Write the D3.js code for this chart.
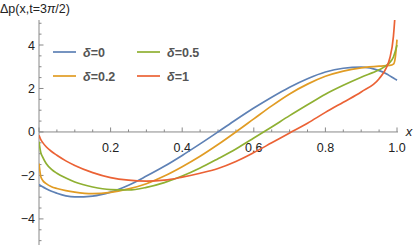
<!DOCTYPE html>
<html>
<head>
<meta charset="utf-8">
<script src="https://cdn.jsdelivr.net/npm/d3@7"></script>
<style>
  body { margin: 0; background: #fff; }
  svg { display: block; font-family: "Liberation Sans", Arial, sans-serif; }
</style>
</head>
<body>
<script>
// sample points along x, shared by every curve
const xs = [0, 0.005, 0.01, 0.02, 0.035, 0.05, 0.075, 0.1, 0.15, 0.2, 0.25, 0.3, 0.35, 0.4, 0.45,
    0.5, 0.55, 0.6, 0.65, 0.7, 0.75, 0.8, 0.85, 0.9, 0.95, 0.97, 0.98, 0.99, 0.995, 1];

const delta0 = [-2.42, -2.47, -2.52, -2.61, -2.73, -2.82, -2.94, -2.99, -2.95, -2.77, -2.45, -2.03, -1.58, -1.08, -0.55,
    0, 0.56, 1.1, 1.6, 2.06, 2.45, 2.76, 2.93, 2.98, 2.82, 2.68, 2.58, 2.48, 2.43, 2.38];
const delta02 = [-1.45, -2.05, -2.22, -2.38, -2.52, -2.6, -2.7, -2.77, -2.84, -2.78, -2.62, -2.38, -2.03, -1.6, -1.12,
    -0.58, 0, 0.6, 1.2, 1.75, 2.2, 2.56, 2.8, 2.95, 3.03, 3.05, 3.06, 3.12, 3.4, 4.25];
const delta05 = [-0.45, -0.95, -1.15, -1.45, -1.72, -1.9, -2.12, -2.3, -2.53, -2.65, -2.67, -2.55, -2.33, -2.03, -1.66,
    -1.23, -0.78, -0.28, 0.23, 0.75, 1.25, 1.74, 2.15, 2.52, 2.86, 3.05, 3.2, 3.45, 3.7, 4.0];
const delta1 = [-0.15, -0.35, -0.48, -0.68, -0.9, -1.07, -1.33, -1.54, -1.87, -2.1, -2.22, -2.26, -2.22, -2.08, -1.9,
    -1.68, -1.36, -0.95, -0.5, -0.05, 0.4, 0.9, 1.37, 1.84, 2.45, 2.95, 3.4, 4.4, 5.5, 7];

const seriesNames = ["δ=0", "δ=0.2", "δ=0.5", "δ=1"];
const seriesValues = [delta0, delta02, delta05, delta1];
const colors = ["#5E81B5", "#E19C24", "#8FB032", "#EB6235"];

const xTickLabels = [0.2, 0.4, 0.6, 0.8, 1.0];
const yTickLabels = [-4, -2, 0, 2, 4];

const W = 417, H = 245;
const svg = d3.select('body').append('svg')
    .attr('width', W)
    .attr('height', H);

const x = d3.scaleLinear().domain([0, 1]).range([39, 397]);
const y = d3.scaleLinear().domain([-5.2, 5.15]).range([245, 20]);

const axisColor = "#888";

// clip for curves
svg.append('clipPath').attr('id', 'clip')
    .append('rect')
    .attr('x', x(0)).attr('y', y(5.15))
    .attr('width', x(1) - x(0) + 2).attr('height', y(-5.2) - y(5.15));

// x axis with ticks pointing up
const xAxis = svg.append('g');
xAxis.append('line')
    .attr('x1', x(0)).attr('x2', x(1) + 1)
    .attr('y1', y(0)).attr('y2', y(0))
    .attr('stroke', axisColor);
const xMinor = d3.range(0, 1.0001, 0.05);
xAxis.selectAll('.xt').data(xMinor).enter().append('line')
    .attr('x1', d => x(d)).attr('x2', d => x(d))
    .attr('y1', y(0))
    .attr('y2', (d, i) => y(0) - (i % 4 === 0 ? 4.5 : 2.5))
    .attr('stroke', axisColor);
xAxis.selectAll('.xl').data(xTickLabels).enter().append('text')
    .attr('x', d => x(d)).attr('y', y(0) + 20)
    .attr('text-anchor', 'middle')
    .attr('font-size', 12.5)
    .attr('fill', '#222')
    .text(d => d3.format('.1f')(d));
xAxis.append('text')
    .attr('x', 409).attr('y', y(0) + 4)
    .attr('text-anchor', 'middle')
    .attr('font-size', 13)
    .attr('font-style', 'italic')
    .attr('fill', '#222')
    .text('x');

// y axis with ticks pointing right
const yAxis = svg.append('g');
yAxis.append('line')
    .attr('x1', x(0)).attr('x2', x(0))
    .attr('y1', y(5.15)).attr('y2', y(-5.2))
    .attr('stroke', axisColor);
const yMinor = d3.range(-5, 5.001, 0.5);
yAxis.selectAll('.yt').data(yMinor).enter().append('line')
    .attr('x1', x(0))
    .attr('x2', d => x(0) + (Math.abs(d % 2) < 1e-9 ? 4.5 : 2.5))
    .attr('y1', d => y(d)).attr('y2', d => y(d))
    .attr('stroke', axisColor);
yAxis.selectAll('.yl').data(yTickLabels).enter().append('text')
    .attr('x', x(0) - 4).attr('y', d => y(d) + 4.5)
    .attr('text-anchor', 'end')
    .attr('font-size', 12.5)
    .attr('fill', '#222')
    .text(d => d < 0 ? '\u2212' + Math.abs(d) : d);

// title
const title = svg.append('text')
    .attr('x', 0).attr('y', 13)
    .attr('font-size', 12.5)
    .attr('fill', '#222');
title.append('tspan').text('Δp(x,t=3');
title.append('tspan').attr('font-style', 'italic').text('π');
title.append('tspan').text('/2)');

// curves
const line = d3.line()
    .x(d => x(d[0]))
    .y(d => y(d[1]))
    .curve(d3.curveMonotoneX);

svg.append('g').attr('clip-path', 'url(#clip)')
    .selectAll('path').data(seriesValues).enter().append('path')
    .attr('d', vals => line(xs.map((v, i) => [v, vals[i]])))
    .attr('fill', 'none')
    .attr('stroke', (d, i) => colors[i])
    .attr('stroke-width', 1.7);

// legend
const legendPos = [[53, 52], [53, 76], [137, 52], [137, 76]];
const legend = svg.append('g');
seriesNames.forEach((name, i) => {
    const [lx, ly] = legendPos[i];
    legend.append('line')
        .attr('x1', lx).attr('x2', lx + 23)
        .attr('y1', ly).attr('y2', ly)
        .attr('stroke', colors[i])
        .attr('stroke-width', 1.7);
    const t = legend.append('text')
        .attr('x', lx + 30).attr('y', ly + 4.5)
        .attr('font-size', 12.5)
        .attr('font-weight', 'bold')
        .attr('fill', '#555');
    t.append('tspan').attr('font-style', 'italic').text(name.slice(0, 1));
    t.append('tspan').text(name.slice(1));
});
</script>
</body>
</html>
